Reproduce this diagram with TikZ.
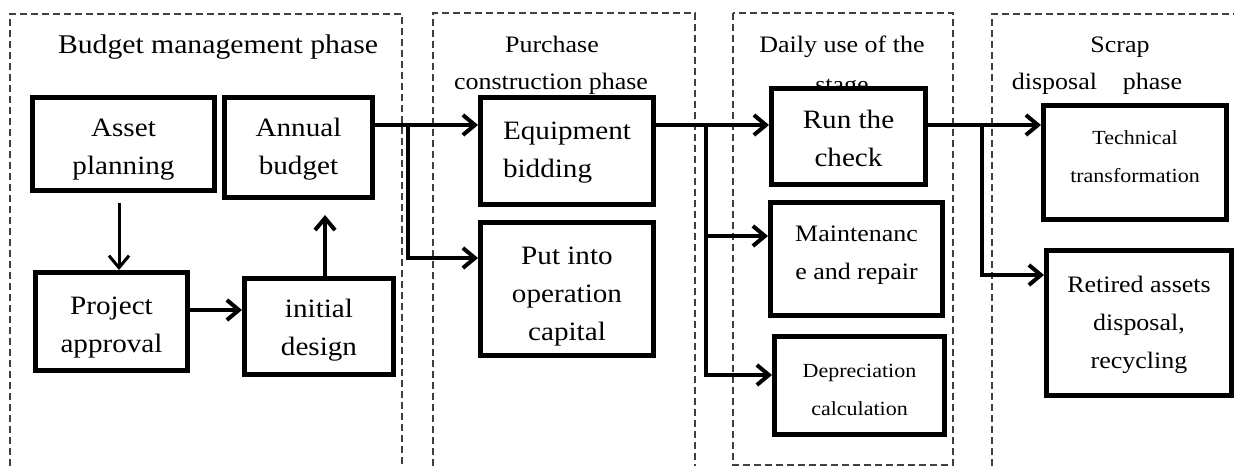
\documentclass[tikz,border=0pt]{standalone}
\usepackage{fontspec}
\setmainfont{Liberation Serif}[FakeStretch=1.1]
\usetikzlibrary{arrows.meta,calc}
\tikzset{
  phase/.style={draw=black!75, line width=1.2pt, dash pattern=on 7pt off 4pt},
  box/.style={draw=black, line width=5pt, fill=white, inner sep=0pt, rectangle},
  big/.style={font=\fontsize{26.5}{38}\selectfont, align=center, inner sep=0pt},
  mid/.style={font=\fontsize{23.6}{38}\selectfont, align=center, inner sep=0pt},
  sml/.style={font=\fontsize{20}{38}\selectfont, align=center, inner sep=0pt},
  ttl/.style={font=\fontsize{23.6}{38}\selectfont, anchor=base, inner sep=0pt},
  arr/.style={line width=4pt, -{Straight Barb[length=12pt,width=20pt]}},
  arrthin/.style={line width=3pt, -{Straight Barb[length=12pt,width=20pt]}},
}
\begin{document}
\begin{tikzpicture}[x=1pt,y=-1pt]
\useasboundingbox (0,0) rectangle (1234,466);
% phase frames
\draw[phase] (10,466) -- (10,14) -- (402,14) -- (402,466);
\draw[phase] (433,466) -- (433,13) -- (695,13) -- (695,466);
\draw[phase] (733,13) rectangle (953,465);
\draw[phase] (992,466) -- (992,14) -- (1234,14);
% phase titles
\node[ttl, font=\fontsize{27}{38}\selectfont] (t1) at (218,53) {Budget management phase};
\node[ttl] (t2a) at (552,52) {Purchase};
\node[ttl] (t2b) at (551,89) {construction phase};
\node[ttl] (t3a) at (842,52) {Daily use of the};
\node[ttl] (t3b) at (842,92) {stage};
\node[ttl] (t4a) at (1120,52) {Scrap};
\node[ttl] (t4b) at (1097,89) {disposal\hspace{26pt}phase};
% boxes
\node[box, minimum width=182pt, minimum height=93pt,
  label={[big,yshift=-6pt]center:{Asset\\planning}}] (asset) at (123.5,144) {};
\node[box, minimum width=148pt, minimum height=100pt,
  label={[big,yshift=-2pt]center:{Annual\\budget}}] (annual) at (298.5,147.5) {};
\node[box, minimum width=152pt, minimum height=98pt,
  label={[big,yshift=-6pt]center:{Project\\approval}}] (proj) at (111.5,321.5) {};
\node[box, minimum width=149pt, minimum height=96pt,
  label={[big,yshift=-4pt]center:{initial\\design}}] (init) at (319,326.5) {};
\node[box, minimum width=173pt, minimum height=107pt,
  label={[big,align=left,yshift=-2pt]center:{Equipment\\bidding}}] (equip) at (567,151) {};
\node[box, minimum width=173pt, minimum height=133pt,
  label={[big,yshift=-8pt]center:{Put into\\operation\\capital}}] (put) at (567,289) {};
\node[box, minimum width=154pt, minimum height=96pt,
  label={[big,yshift=-1.5pt]center:{Run the\\check}}] (run) at (848.5,136.5) {};
\node[box, minimum width=172pt, minimum height=113pt,
  label={[mid,yshift=3.5pt]center:{Maintenanc\\e and repair}}] (maint) at (856.5,259) {};
\node[box, minimum width=170pt, minimum height=98pt,
  label={[sml,yshift=-4pt]center:{Depreciation\\calculation}}] (depr) at (859.5,385.5) {};
\node[box, minimum width=183pt, minimum height=114pt,
  label={[sml,yshift=6pt]center:{Technical\\transformation}}] (tech) at (1135,162.5) {};
\node[box, minimum width=185pt, minimum height=145pt,
  label={[mid,yshift=-1.5pt]center:{Retired assets\\disposal,\\recycling}}] (ret) at (1139,323) {};
% helper coordinates
\coordinate (row1) at (0,125);
\coordinate (c1) at (119,203);
\coordinate (yPI) at (0,310);
\coordinate (c3) at (325,215);
\coordinate (j1) at (408,125);
\coordinate (j1b) at (408,258);
\coordinate (j2) at (706,127);
\coordinate (j2m) at (706,236);
\coordinate (j2b) at (706,375);
\coordinate (j3) at (982,127);
\coordinate (j3b) at (982,275);
% connectors
\draw[arrthin] (c1) -- (c1 |- proj.north);
\draw[arr] (proj.east |- yPI) -- (init.west |- yPI);
\draw[arr] (init.north -| c3) -- (c3);
\draw[arr] (annual.east |- row1) -- (equip.west |- row1);
\draw[arr] (j1) -- (j1b) -- (put.west |- j1b);
\draw[arr] (equip.east |- row1) -- (run.west |- row1);
\draw[arr] (j2) -- (j2b) -- (depr.west |- j2b);
\draw[arr] (j2m) -- (maint.west |- j2m);
\draw[arr] (run.east |- row1) -- (tech.west |- row1);
\draw[arr] (j3) -- (j3b) -- (ret.west |- j3b);
\end{tikzpicture}
\end{document}
